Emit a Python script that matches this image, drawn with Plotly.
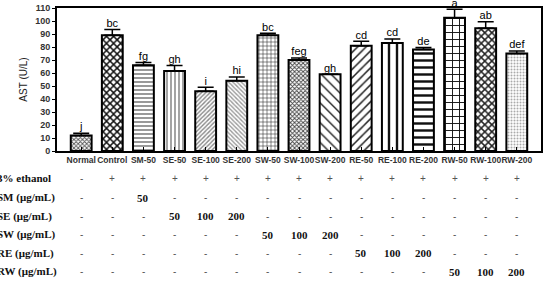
import plotly.graph_objects as go

categories = ["Normal", "Control", "SM-50", "SE-50", "SE-100", "SE-200", "SW-50", "SW-100",
              "SW-200", "RE-50", "RE-100", "RE-200", "RW-50", "RW-100", "RW-200"]
ast_values = [12, 89, 66, 61.5, 46, 54, 89, 70, 59, 81, 83, 78, 102.5, 94.5, 75]
ast_errors = [1.7, 4.5, 2, 4.2, 3, 3, 1.5, 1.5, 0, 3.4, 3.2, 1.7, 6.5, 5, 2]
sig_letters = ["j", "bc", "fg", "gh", "i", "hi", "bc", "feg", "gh", "cd", "cd", "de", "a", "ab", "def"]

row_labels = ["3% ethanol", "SM (\u03bcg/mL)", "SE (\u03bcg/mL)", "SW (\u03bcg/mL)", "RE (\u03bcg/mL)", "RW (\u03bcg/mL)"]
row_ethanol = ["-"] + ["+"] * 14
row_sm = ["-", "-", "50"] + ["-"] * 12
row_se = ["-", "-", "-", "50", "100", "200"] + ["-"] * 9
row_sw = ["-"] * 6 + ["50", "100", "200"] + ["-"] * 6
row_re = ["-"] * 9 + ["50", "100", "200"] + ["-"] * 3
row_rw = ["-"] * 12 + ["50", "100", "200"]
table_rows = [row_ethanol, row_sm, row_se, row_sw, row_re, row_rw]

# styles
pat_shape = ["x", "x", "-", "|", "/", "\\", "+", "x", "\\", "/", "|", "-", "+", "x", "."]
pat_size = [3, 5, 4, 4, 3, 3, 4, 3, 7, 6, 8, 7, 7, 5, 3]
pat_solid = [0.5, 0.5, 0.3, 0.3, 0.45, 0.45, 0.25, 0.5, 0.2, 0.25, 0.3, 0.35, 0.25, 0.5, 0.35]
pat_fg = ["#555", "#111", "#555", "#666", "#888", "#999", "#222", "#444", "#222", "#222",
          "#111", "#111", "#111", "#222", "#aaa"]

W, H = 546, 282
L, R, T, B = 57, 3, 4, 131
plot_h = H - T - B
plot_w = W - L - R

def py_to_paper(py):
    return (H - B - py) / plot_h

fig = go.Figure()
fig.add_trace(go.Bar(
    x=categories, y=ast_values,
    marker=dict(color="white", line=dict(color="black", width=2),
                pattern=dict(shape=pat_shape, size=pat_size, solidity=pat_solid,
                             fgcolor=pat_fg, bgcolor="white", fillmode="replace")),
    error_y=dict(type="data", array=ast_errors, arrayminus=[0] * len(ast_errors),
                 symmetric=False, color="black", thickness=1.5, width=8),
    showlegend=False,
))
fig.add_trace(go.Scatter(
    x=categories, y=[v + e for v, e in zip(ast_values, ast_errors)],
    mode="text", text=sig_letters, textposition="top center", cliponaxis=False,
    textfont=dict(family="Arial", size=11, color="black"), showlegend=False,
))

annotations = []
row_py = [179, 199, 218, 237, 256, 275]
for lab, py in zip(row_labels, row_py):
    annotations.append(dict(
        text=lab, xref="paper", yref="paper", x=(-5 - L) / plot_w, y=py_to_paper(py),
        xanchor="left", yanchor="middle", showarrow=False,
        font=dict(family="Liberation Serif", size=11, color="#111", weight="bold")))
for row, py in zip(table_rows, row_py):
    for cat, val in zip(categories, row):
        is_sign = val in ("+", "-")
        annotations.append(dict(
            text=val, xref="x", yref="paper", x=cat, y=py_to_paper(py),
            xanchor="center", yanchor="middle", showarrow=False,
            font=dict(family="Arial" if is_sign else "Liberation Serif",
                      size=11 if not is_sign else 10,
                      color="#555" if is_sign else "#111",
                      weight="normal" if is_sign else "bold")))

fig.update_layout(
    width=W, height=H, margin=dict(l=L, r=R, t=T, b=B),
    plot_bgcolor="white", paper_bgcolor="white",
    bargap=0.33, annotations=annotations,
    xaxis=dict(showline=True, linecolor="black", linewidth=2, mirror=True,
               ticks="inside", ticklen=4, tickcolor="black", tickangle=0,
               tickfont=dict(family="Arial", size=8.5, color="#333", weight="bold")),
    yaxis=dict(range=[0, 110], dtick=10, showline=True, linecolor="black", linewidth=2,
               mirror=True, ticks="outside", ticklen=3, tickcolor="black", showgrid=False,
               zeroline=False,
               tickfont=dict(family="Arial", size=9, color="#333", weight="bold"),
               title=dict(text="AST (U/L)", standoff=6,
                          font=dict(family="Arial", size=10, color="#222"))),
)
fig.write_html("out.html")
